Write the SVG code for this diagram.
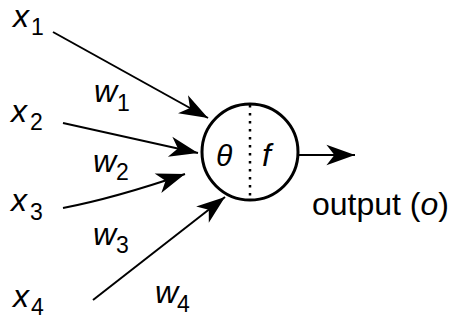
<svg xmlns="http://www.w3.org/2000/svg" width="455" height="320" viewBox="0 0 455 320">
<style>
text{font-family:"Liberation Sans",Arial,sans-serif;fill:#000}
.v{font-size:32px;font-style:italic}
.s{font-size:23px}
.big{font-size:30px}
.out{font-size:32px}
.c{fill:none;stroke:#000;stroke-width:2}
</style>
<defs>
<marker id="ah" markerUnits="userSpaceOnUse" markerWidth="40" markerHeight="40" viewBox="-30 -15 35 30" refX="0" refY="0" orient="auto">
<path d="M0,0 L-25,-9 L-18,0 L-25,9 Z" fill="#000"/>
</marker>
</defs>
<rect width="455" height="320" fill="#fff"/>
<g id="connectors">
<path class="c" d="M53,32 L208,118" marker-end="url(#ah)"/>
<path class="c" d="M63,123 L198,153" marker-end="url(#ah)"/>
<path class="c" d="M63,208 Q115,198 185,174" marker-end="url(#ah)"/>
<path class="c" d="M93,300 L225,197" marker-end="url(#ah)"/>
<path class="c" d="M298,155 L355,155" marker-end="url(#ah)"/>
</g>
<g id="neuron">
<circle cx="250" cy="152" r="48" fill="#fff" stroke="#000" stroke-width="3"/>
<line x1="250" y1="105" x2="250" y2="200" stroke="#000" stroke-width="2.5" stroke-dasharray="2.5 5.5"/>
<text class="big" x="216" y="166" font-style="italic">θ</text>
<text class="big" x="262" y="166" font-style="italic" style="font-size:32px">f</text>
</g>
<g id="x1"><text class="v" x="13" y="27">x</text><text class="s" x="31" y="35">1</text></g>
<g id="x2"><text class="v" x="11" y="122">x</text><text class="s" x="30" y="130">2</text></g>
<g id="x3"><text class="v" x="11" y="211">x</text><text class="s" x="30" y="220">3</text></g>
<g id="x4"><text class="v" x="13" y="307">x</text><text class="s" x="31" y="315">4</text></g>
<g id="w1"><text class="v" x="94" y="102">w</text><text class="s" x="117" y="111">1</text></g>
<g id="w2"><text class="v" x="93" y="172">w</text><text class="s" x="116" y="180">2</text></g>
<g id="w3"><text class="v" x="93" y="245">w</text><text class="s" x="116" y="253">3</text></g>
<g id="w4"><text class="v" x="155" y="303">w</text><text class="s" x="177" y="312">4</text></g>
<g id="output"><text class="out" x="312" y="215">output (<tspan font-style="italic">o</tspan>)</text></g>
</svg>
